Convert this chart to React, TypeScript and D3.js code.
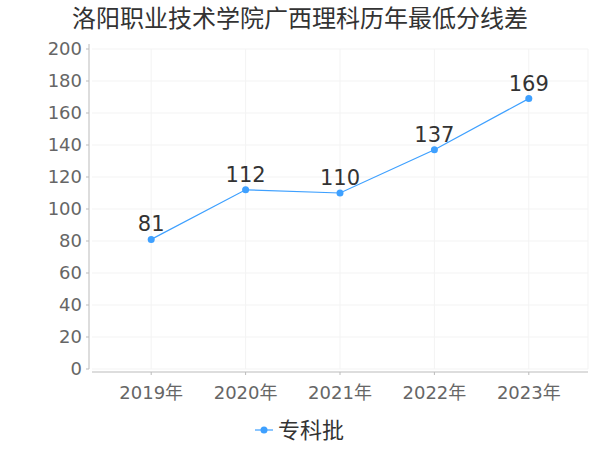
import React from "react";
import * as d3 from "d3";

const title = "洛阳职业技术学院广西理科历年最低分线差";
const years = ["2019年", "2020年", "2021年", "2022年", "2023年"];
const scores = [81, 112, 110, 137, 169];
const yTicks = [0, 20, 40, 60, 80, 100, 120, 140, 160, 180, 200];
const seriesName = "专科批";

const W = 600;
const H = 450;
const left = 92;
const right = 588;
const top = 49;
const bottom = 369;
const lineColor = "#3ea0ff";
const font = "'DejaVu Sans', 'Noto Sans CJK SC', sans-serif";

export default function App() {
  const x = d3.scaleBand<string>().domain(years).range([left + 12, right - 12]);
  const y = d3.scaleLinear().domain([0, 200]).range([bottom, top]);
  const cx = (d: string) => (x(d) ?? 0) + x.bandwidth() / 2;

  const line = d3
    .line<number>()
    .x((_, i) => cx(years[i]))
    .y((d) => y(d));

  return (
    <svg width={W} height={H} style={{ position: "absolute", left: 0, top: 0, fontFamily: font }}>
      <rect width={W} height={H} fill="#fff" />
      <text x={300} y={27} textAnchor="middle" fontSize={24} fill="#333">
        {title}
      </text>

      {yTicks.map((t) => (
        <line key={"g" + t} x1={left} x2={right} y1={y(t)} y2={y(t)} stroke="#f3f3f3" />
      ))}
      {years.map((yr) => (
        <line key={"v" + yr} x1={cx(yr)} x2={cx(yr)} y1={top} y2={bottom} stroke="#f3f3f3" />
      ))}
      <line x1={right} x2={right} y1={top} y2={bottom} stroke="#f3f3f3" />

      <line x1={89} x2={89} y1={top - 5} y2={bottom} stroke="#bbb" />
      {yTicks.map((t) => (
        <g key={"y" + t}>
          <line x1={86} x2={89} y1={y(t)} y2={y(t)} stroke="#bbb" />
          <text x={82} y={y(t)} dy="0.35em" textAnchor="end" fontSize={18} fill="#666">
            {t}
          </text>
        </g>
      ))}

      <line x1={left} x2={right} y1={372} y2={372} stroke="#bbb" />
      {years.map((yr) => (
        <g key={"x" + yr}>
          <line x1={cx(yr)} x2={cx(yr)} y1={372} y2={375} stroke="#bbb" />
          <text x={cx(yr)} y={399} textAnchor="middle" fontSize={18} fill="#666">
            {yr}
          </text>
        </g>
      ))}

      <path d={line(scores) ?? ""} fill="none" stroke={lineColor} strokeWidth={1.2} />
      {scores.map((s, i) => (
        <g key={"p" + i}>
          <circle cx={cx(years[i])} cy={y(s)} r={3.5} fill={lineColor} />
          <text x={cx(years[i])} y={y(s) - 8} textAnchor="middle" fontSize={21} fill="#333">
            {s}
          </text>
        </g>
      ))}

      <line x1={255} x2={273} y1={430} y2={430} stroke={lineColor} strokeWidth={1.2} />
      <circle cx={264} cy={430} r={3.5} fill={lineColor} />
      <text x={278} y={430} dy="0.35em" fontSize={22} fill="#333">
        {seriesName}
      </text>
    </svg>
  );
}
